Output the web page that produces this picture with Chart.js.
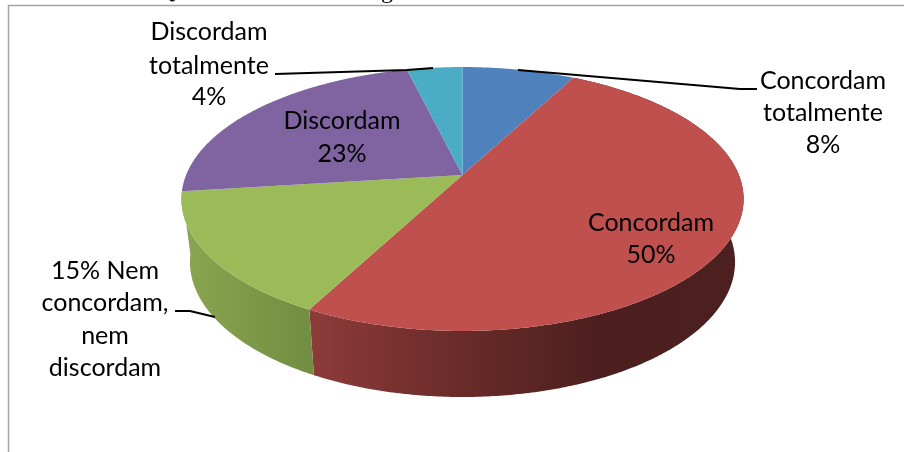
<!DOCTYPE html>
<html>
<head>
<meta charset="utf-8">
<script src="https://cdn.jsdelivr.net/npm/chart.js@4"></script>
<style>
  body { margin: 0; background: #fff; }
  #wrap { width: 904px; height: 452px; }
</style>
</head>
<body>
<div id="wrap"><canvas id="pie" width="904" height="452"></canvas></div>
<script>
/* ============================= */
/*             DATA              */
/* ============================= */
const categories = ['Concordam totalmente', 'Concordam', 'Nem concordam, nem discordam', 'Discordam', 'Discordam totalmente'];
const shares = [7.7, 50, 15.3, 23.2, 3.8];
const topColors = ['#4f81bd', '#c0504d', '#9bbb59', '#8064a2', '#4bacc6'];
// only red and green have a wall facing the viewer
const wallColors = [
    null,
    ['#8d3b39', '#6b2c2a', '#4c1f1e', '#4c2020'],
    ['#8aa651', '#718e42'],
    null,
    null
];

// text blocks: lines, centre x, y of each line
const labelBlocks = [
    { lines: ['Discordam', 'totalmente', '4%'], x: 209, y: [32, 66, 97] },
    { lines: ['Concordam', 'totalmente', '8%'], x: 823, y: [81, 113, 145] },
    { lines: ['Concordam', '50%'], x: 651, y: [223, 255] },
    { lines: ['Discordam', '23%'], x: 342, y: [121, 154] },
    { lines: ['15% Nem', 'concordam,', 'nem', 'discordam'], x: 105, y: [271, 303, 336, 368] }
];

const leaderLines = [
    [[275, 74], [407, 70], [433, 68]],
    [[518, 70], [740, 89], [757, 89]],
    [[175, 311], [190, 311], [215, 317]]
];

/* ============================= */
/*     TILTED DISC PROJECTION    */
/* ============================= */
const tilt = 0.1818;
const topDisc = { cx: 462.5, cy: 175, ax: 276.4, ay: 127.6 };
const bottomDisc = { cx: 462.5, cy: 237.5, ax: 268, ay: 130.5 };

function project(disc, angle) {
    const u = Math.cos(angle);
    const v = Math.sin(angle);
    const w = 1 - tilt * v;
    return [disc.cx + disc.ax * u / w, disc.cy + disc.ay * v / w];
}

function traceRim(ctx, disc, from, to, first) {
    const steps = Math.max(2, Math.ceil(Math.abs(to - from) / 0.01));
    for (let i = 0; i <= steps; i++) {
        const p = project(disc, from + (to - from) * i / steps);
        if (i === 0 && first) ctx.moveTo(p[0], p[1]);
        else ctx.lineTo(p[0], p[1]);
    }
}

function drawWall(ctx, arc, i) {
    const a = project(topDisc, arc.startAngle);
    const b = project(topDisc, arc.endAngle);
    const grad = ctx.createLinearGradient(Math.min(a[0], b[0]), 0, i === 1 ? 744 : Math.max(a[0], b[0]), 0);
    wallColors[i].forEach((c, k) => grad.addColorStop(k / (wallColors[i].length - 1), c));
    ctx.beginPath();
    traceRim(ctx, topDisc, arc.startAngle, arc.endAngle, true);
    traceRim(ctx, bottomDisc, arc.endAngle, arc.startAngle, false);
    ctx.closePath();
    ctx.fillStyle = grad;
    ctx.fill();
}

const tiltedPie = {
    id: 'tiltedPie',
    beforeDatasetsDraw(chart) {
        const ctx = chart.ctx;
        const arcs = chart.getDatasetMeta(0).data;

        // side walls first, the top covers whatever is behind
        arcs.forEach((arc, i) => {
            if (wallColors[i]) drawWall(ctx, arc, i);
        });

        arcs.forEach(arc => {
            ctx.beginPath();
            ctx.moveTo(topDisc.cx, topDisc.cy);
            traceRim(ctx, topDisc, arc.startAngle, arc.endAngle, false);
            ctx.closePath();
            ctx.fillStyle = arc.options.backgroundColor;
            ctx.fill();
        });
        return false;
    },
    afterDraw(chart) {
        const ctx = chart.ctx;
        ctx.save();

        // frame of the embedded picture
        ctx.strokeStyle = '#a3a3a3';
        ctx.lineWidth = 1.5;
        ctx.beginPath();
        ctx.moveTo(8.5, 452);
        ctx.lineTo(8.5, 5.5);
        ctx.lineTo(904, 5.5);
        ctx.stroke();

        // bits of the cropped caption above the frame
        ctx.fillStyle = '#000';
        ctx.textAlign = 'left';
        ctx.textBaseline = 'alphabetic';
        ctx.font = '24px "Liberation Serif"';
        ctx.fillText('Q', 158, -2);
        ctx.fillText('g', 381, -2);

        ctx.strokeStyle = '#000';
        ctx.lineWidth = 2;
        leaderLines.forEach(pts => {
            ctx.beginPath();
            pts.forEach((p, i) => i ? ctx.lineTo(p[0], p[1]) : ctx.moveTo(p[0], p[1]));
            ctx.stroke();
        });

        ctx.font = '25px Lato';
        ctx.textAlign = 'center';
        ctx.textBaseline = 'middle';
        labelBlocks.forEach(block => {
            block.lines.forEach((line, i) => ctx.fillText(line, block.x, block.y[i]));
        });
        ctx.restore();
    }
};

/* ============================= */
/*            CHART              */
/* ============================= */
new Chart(document.getElementById('pie'), {
    type: 'pie',
    data: {
        labels: categories,
        datasets: [{ data: shares, backgroundColor: topColors, borderWidth: 0 }]
    },
    options: {
        responsive: false,
        animation: false,
        events: [],
        plugins: { legend: { display: false }, tooltip: { enabled: false } }
    },
    plugins: [tiltedPie]
});
</script>
</body>
</html>
